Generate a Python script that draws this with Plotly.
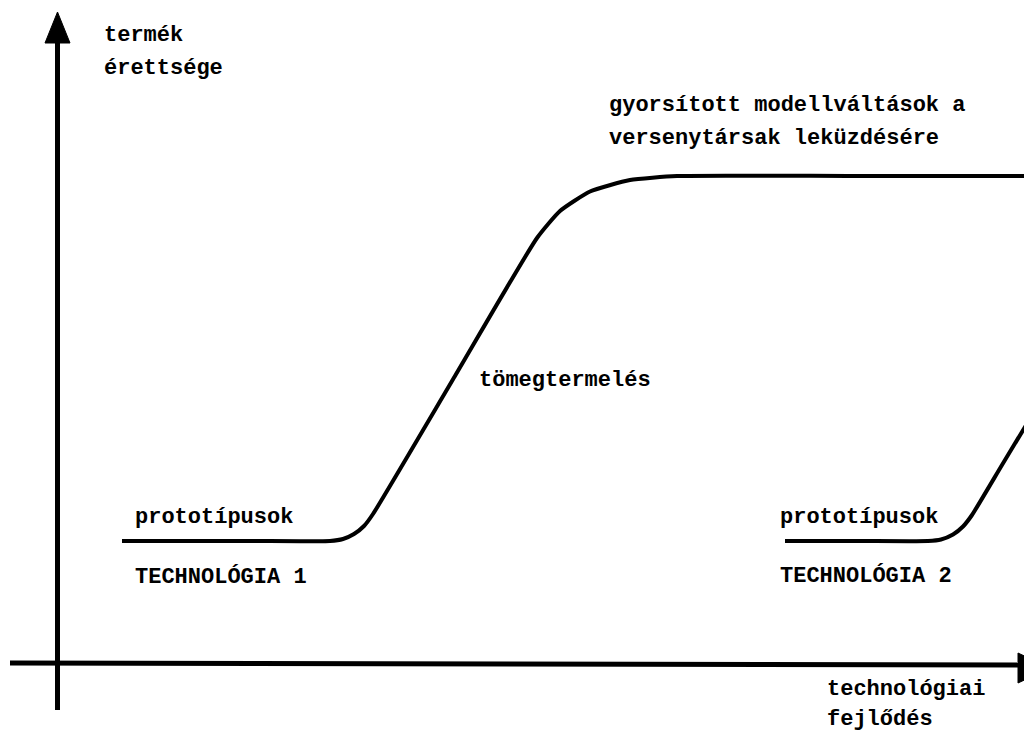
import plotly.graph_objects as go

# Diagram coordinates (canvas units, y grows downward)
# Axes
y_axis_x = [57.5, 57.5]
y_axis_y = [40, 710]
x_axis_x = [10, 1020]
x_axis_y = [663, 665]
y_head_x = [45, 70, 57.5, 45]
y_head_y = [43, 43, 12, 43]
x_head_x = [1018, 1018, 1050, 1018]
x_head_y = [653, 683, 668, 653]

# Technology 1 S-curve
tech1_x = [122, 250, 330, 343, 354, 364, 373, 455, 537, 560, 590, 630, 677, 850, 1027]
tech1_y = [541, 541, 541, 539, 534, 526, 514, 376, 238, 211, 191.5, 180, 176, 176, 176]

# Technology 2 S-curve (start)
tech2_x = [785, 860, 928, 941, 953, 963, 972, 1002, 1040]
tech2_y = [541, 541, 541, 539.5, 534.5, 526.5, 515, 465, 402]

labels = ["termék", "érettsége",
          "gyorsított modellváltások a", "versenytársak leküzdésére",
          "tömegtermelés",
          "prototípusok", "TECHNOLÓGIA 1",
          "prototípusok", "TECHNOLÓGIA 2",
          "technológiai", "fejlődés"]
label_x = [102, 102, 607, 607, 477, 133, 133, 778, 778, 825, 825]
label_y = [35, 68, 105, 138, 380, 517, 577, 517, 576, 689, 719]

fig = go.Figure()
black = "#000000"

fig.add_trace(go.Scatter(x=y_axis_x, y=y_axis_y, mode="lines",
                         line=dict(color=black, width=5), hoverinfo="skip"))
fig.add_trace(go.Scatter(x=x_axis_x, y=x_axis_y, mode="lines",
                         line=dict(color=black, width=5), hoverinfo="skip"))
fig.add_trace(go.Scatter(x=y_head_x, y=y_head_y, mode="lines", fill="toself",
                         fillcolor=black, line=dict(color=black, width=1), hoverinfo="skip"))
fig.add_trace(go.Scatter(x=x_head_x, y=x_head_y, mode="lines", fill="toself",
                         fillcolor=black, line=dict(color=black, width=1), hoverinfo="skip"))
fig.add_trace(go.Scatter(x=tech1_x, y=tech1_y, mode="lines",
                         line=dict(color=black, width=4, shape="spline", smoothing=0.5),
                         hoverinfo="skip"))
fig.add_trace(go.Scatter(x=tech2_x, y=tech2_y, mode="lines",
                         line=dict(color=black, width=4, shape="spline", smoothing=0.5),
                         hoverinfo="skip"))

for t, x, y in zip(labels, label_x, label_y):
    fig.add_annotation(x=x, y=y, text=t, showarrow=False, xanchor="left", yanchor="middle",
                       font=dict(family="Liberation Mono", size=22, color=black, weight="bold"))

# The page body adds an 8px margin, so the visible window starts at canvas unit 8
fig.update_layout(
    width=1032, height=731,
    margin=dict(l=0, r=0, t=0, b=0),
    paper_bgcolor="white", plot_bgcolor="white",
    showlegend=False,
    xaxis=dict(range=[8, 1040], visible=False, fixedrange=True),
    yaxis=dict(range=[739, 8], visible=False, fixedrange=True),
)

fig.write_html("out.html")
